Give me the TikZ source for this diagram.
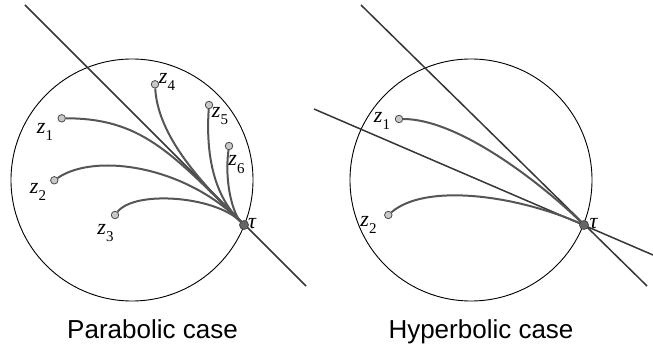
\documentclass[tikz,border=0pt]{standalone}
\usepackage{fontspec}
\setmainfont{Liberation Serif}
\newfontfamily\capfont{Liberation Sans}
\definecolor{linegray}{HTML}{363636}
\definecolor{curvegray}{HTML}{555555}
\definecolor{dotline}{HTML}{4A4A4A}
\definecolor{dotfill}{HTML}{C8C8C8}
\definecolor{taufill}{HTML}{666666}
\newcommand{\zlab}[1]{\textit{z}\raisebox{-0.33em}{\fontsize{15}{15}\selectfont #1}}

\begin{document}
\begin{tikzpicture}[x=1pt,y=-1pt,
  pt/.style={circle,draw=dotline,fill=dotfill,line width=0.8pt,inner sep=0pt,minimum size=7.5pt},
  taupt/.style={pt,fill=taufill,minimum size=9pt},
  flow/.style={curvegray,line width=2pt},
  axis/.style={linegray,line width=1.5pt},
  lab/.style={inner sep=0pt,font=\fontsize{22}{22}\selectfont},
  captext/.style={anchor=base,inner sep=0pt,font=\capfont\fontsize{26}{30}\selectfont}]
  \useasboundingbox (0,0) rectangle (653,347);
  % parabolic case
  \draw[line width=0.9pt] (132,180) circle (121);
  \coordinate (pa) at (25,5);
  \coordinate (pb) at (306,286);
  \draw[axis] (pa) -- (pb);
  \node[pt] (pz1) at (61.7,118.3) {};
  \node[pt] (pz2) at (54.3,180.3) {};
  \node[pt] (pz3) at (115,215) {};
  \node[pt] (pz4) at (155,84.3) {};
  \node[pt] (pz5) at (209,105) {};
  \node[pt] (pz6) at (229,146) {};
  \node[taupt] (pt) at (244,225) {};
  \draw[flow] (pz1) .. controls +(78,0) and +(-74,-74) .. (pt);
  \draw[flow] (pz2) .. controls +(41,-28) and +(-59,-59) .. (pt);
  \draw[flow] (pz3) .. controls +(20,-25) and +(-29,-29) .. (pt);
  \draw[flow] (pz4) .. controls +(3,56) and +(-34,-34) .. (pt);
  \draw[flow] (pz5) .. controls +(-5,75) and +(-16,-16) .. (pt);
  \draw[flow] (pz6) .. controls +(-5,39) and +(-10,-10) .. (pt);
  \node[lab] (pl1) at (45,132) {\zlab{1}};
  \node[lab] (pl2) at (38,192) {\zlab{2}};
  \node[lab] (pl3) at (105.5,233) {\zlab{3}};
  \node[lab] (pl4) at (167,82) {\zlab{4}};
  \node[lab] (pl5) at (220,116.3) {\zlab{5}};
  \node[lab] (pl6) at (236.5,164.5) {\zlab{6}};
  \node[lab] (plt) at (252.5,224) {\textit{τ}};
  \node[captext] (pcap) at (152.5,338) {Parabolic case};
  % hyperbolic case
  \draw[line width=0.9pt] (471,180) circle (121);
  \coordinate (ha) at (361,5);
  \coordinate (hb) at (647,286);
  \coordinate (hc) at (314,109);
  \coordinate (hd) at (653,255);
  \draw[axis] (ha) -- (hb);
  \draw[axis] (hc) -- (hd);
  \node[pt] (hz1) at (399,119) {};
  \node[pt] (hz2) at (388.3,215) {};
  \node[taupt] (ht) at (584,225) {};
  \draw[flow] (hz1) .. controls +(61,0) and +(-40,-39) .. (ht);
  \draw[flow] (hz2) .. controls +(37,-32) and +(-69,-30) .. (ht);
  \node[lab] (hl1) at (382,121) {\zlab{1}};
  \node[lab] (hl2) at (368.5,225) {\zlab{2}};
  \node[lab] (hlt) at (594,223.5) {\textit{τ}};
  \node[captext] (hcap) at (481,338) {Hyperbolic case};
\end{tikzpicture}
\end{document}
